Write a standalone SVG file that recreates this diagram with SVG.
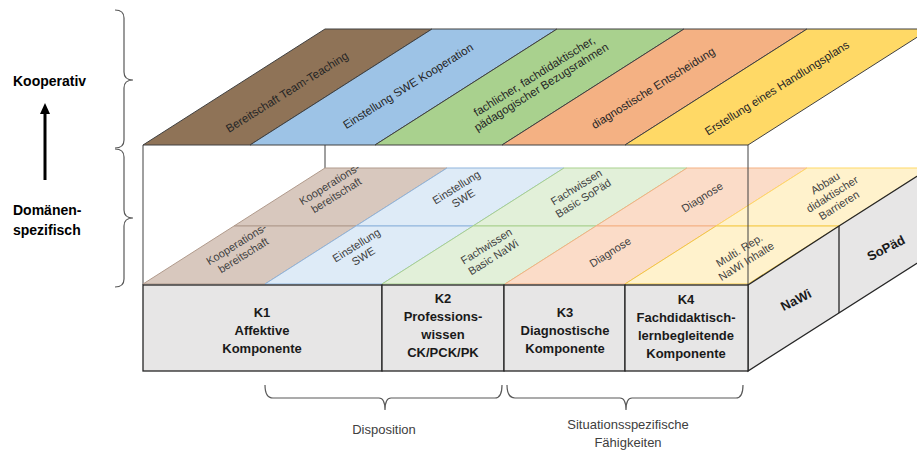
<svg xmlns="http://www.w3.org/2000/svg" width="917" height="450" viewBox="0 0 917 450">
<style>
text{font-family:"Liberation Sans",Arial,sans-serif;}
.tl{font-size:11.5px;fill:#262626;text-anchor:middle;}
.ml{font-size:11px;fill:#404040;text-anchor:middle;}
.bx{fill:#e7e6e6;stroke:#262626;stroke-width:1.3;}
.bt{font-size:13px;font-weight:bold;fill:#1a1a1a;text-anchor:middle;}
.lb{font-size:14px;font-weight:bold;fill:#000;}
.br{fill:none;stroke:#595959;stroke-width:1.2;}
.bot{font-size:13px;fill:#404040;text-anchor:middle;}
.edge{stroke:#404040;stroke-width:1;fill:none;}
</style>
<rect width="917" height="450" fill="#fff"/>

<g id="left-labels">
<path class="br" d="M115,10 Q124,10 124,18 L124,72 Q124,80 133,80 Q124,80 124,88 L124,140 Q124,148 115,148"/>
<path class="br" d="M115,149 Q124,149 124,157 L124,210 Q124,218 133,218 Q124,218 124,226 L124,279 Q124,287 115,287"/>
<text class="lb" x="13" y="86">Kooperativ</text>
<line x1="45" y1="180" x2="45" y2="112" stroke="#000" stroke-width="3"/>
<polygon points="45,103 40,114 50,114" fill="#000"/>
<text class="lb" x="13" y="215">Domänen-</text>
<text class="lb" x="13" y="235">spezifisch</text>
</g>

<g id="frame">
<line class="edge" x1="143" y1="145" x2="143" y2="285"/>
<line class="edge" x1="325" y1="145" x2="325" y2="168"/>
</g>

<g id="middle-layer">
<polygon points="234,226 356,226 447,168 325,168" fill="#d8c8be" stroke="#b09a8c"/>
<polygon points="356,226 473,226 564,168 447,168" fill="#deebf7" stroke="#8fb4dc"/>
<polygon points="473,226 596,226 687,168 564,168" fill="#e2f0d9" stroke="#a9d18e"/>
<polygon points="596,226 716,226 807,168 687,168" fill="#fbdcc8" stroke="#f4b183"/>
<polygon points="716,226 839,226 930,168 807,168" fill="#fff2cc" stroke="#ffd966"/>
<polygon points="143,284 265,284 356,226 234,226" fill="#d8c8be" stroke="#b09a8c"/>
<polygon points="265,284 382,284 473,226 356,226" fill="#deebf7" stroke="#8fb4dc"/>
<polygon points="382,284 505,284 596,226 473,226" fill="#e2f0d9" stroke="#a9d18e"/>
<polygon points="505,284 625,284 716,226 596,226" fill="#fbdcc8" stroke="#f4b183"/>
<polygon points="625,284 748,284 839,226 716,226" fill="#fff2cc" stroke="#f2c744"/>

<text class="ml" transform="translate(333,190) rotate(-32)"><tspan x="0" dy="-3">Kooperations-</tspan><tspan x="0" dy="13">bereitschaft</tspan></text>
<text class="ml" transform="translate(460,193) rotate(-32)"><tspan x="0" dy="-3">Einstellung</tspan><tspan x="0" dy="13">SWE</tspan></text>
<text class="ml" transform="translate(580,193) rotate(-32)"><tspan x="0" dy="-3">Fachwissen</tspan><tspan x="0" dy="13">Basic SoPäd</tspan></text>
<text class="ml" transform="translate(702,197) rotate(-32)"><tspan x="0" dy="4">Diagnose</tspan></text>
<text class="ml" transform="translate(832,194) rotate(-32)"><tspan x="0" dy="-9">Abbau</tspan><tspan x="0" dy="13">didaktischer</tspan><tspan x="0" dy="13">Barrieren</tspan></text>

<text class="ml" transform="translate(240,250) rotate(-32)"><tspan x="0" dy="-3">Kooperations-</tspan><tspan x="0" dy="13">bereitschaft</tspan></text>
<text class="ml" transform="translate(360,251) rotate(-32)"><tspan x="0" dy="-3">Einstellung</tspan><tspan x="0" dy="13">SWE</tspan></text>
<text class="ml" transform="translate(490,252) rotate(-32)"><tspan x="0" dy="-3">Fachwissen</tspan><tspan x="0" dy="13">Basic NaWi</tspan></text>
<text class="ml" transform="translate(610,252) rotate(-32)"><tspan x="0" dy="4">Diagnose</tspan></text>
<text class="ml" transform="translate(743,256) rotate(-32)"><tspan x="0" dy="-3">Multi. Rep.</tspan><tspan x="0" dy="13">NaWi Inhalte</tspan></text>
</g>

<g id="front-edge">
<line class="edge" x1="748" y1="145" x2="748" y2="285"/>
</g>

<g id="top-layer">
<polygon points="143,145 250,145 432,29 325,29" fill="#8f7357" stroke="#404040"/>
<polygon points="250,145 375,145 557,29 432,29" fill="#9dc3e6" stroke="#404040"/>
<polygon points="375,145 502,145 684,29 557,29" fill="#a9d18e" stroke="#404040"/>
<polygon points="502,145 625,145 807,29 684,29" fill="#f4b183" stroke="#404040"/>
<polygon points="625,145 748,145 930,29 807,29" fill="#ffd966" stroke="#404040"/>
<text class="tl" transform="translate(287,92) rotate(-32)"><tspan x="0" dy="4">Bereitschaft Team-Teaching</tspan></text>
<text class="tl" transform="translate(408,86) rotate(-32)"><tspan x="0" dy="4">Einstellung SWE Kooperation</tspan></text>
<text class="tl" transform="translate(538,82) rotate(-32)"><tspan x="0" dy="-3">fachlicher, fachdidaktischer,</tspan><tspan x="0" dy="13">pädagogischer Bezugsrahmen</tspan></text>
<text class="tl" transform="translate(653,88) rotate(-32)"><tspan x="0" dy="4">diagnostische Entscheidung</tspan></text>
<text class="tl" transform="translate(777,88) rotate(-32)"><tspan x="0" dy="4">Erstellung eines Handlungsplans</tspan></text>
</g>

<g id="side-face">
<polygon class="bx" points="748,285 839,226 930,168 930,255 748,371"/>
<line x1="839" y1="226" x2="839" y2="313" stroke="#262626" stroke-width="1.3"/>
<text class="bt" transform="translate(798,304) rotate(-27)">NaWi</text>
<text class="bt" transform="translate(888,252) rotate(-27)">SoPäd</text>
</g>

<g id="k1">
<rect class="bx" x="143" y="285" width="239" height="86"/>
<text class="bt" x="262" y="317">K1</text>
<text class="bt" x="262" y="335">Affektive</text>
<text class="bt" x="262" y="353">Komponente</text>
</g>
<g id="k2">
<rect class="bx" x="382" y="285" width="122" height="86"/>
<text class="bt" x="443" y="303">K2</text>
<text class="bt" x="443" y="321">Professions-</text>
<text class="bt" x="443" y="339">wissen</text>
<text class="bt" x="443" y="357">CK/PCK/PK</text>
</g>
<g id="k3">
<rect class="bx" x="504" y="285" width="121" height="86"/>
<text class="bt" x="565" y="317">K3</text>
<text class="bt" x="565" y="335">Diagnostische</text>
<text class="bt" x="565" y="353">Komponente</text>
</g>
<g id="k4">
<rect class="bx" x="625" y="285" width="123" height="86"/>
<text class="bt" x="686" y="304">K4</text>
<text class="bt" x="686" y="322">Fachdidaktisch-</text>
<text class="bt" x="686" y="340">lernbegleitende</text>
<text class="bt" x="686" y="358">Komponente</text>
</g>

<g id="bottom-braces">
<path class="br" d="M265,385 Q265,398 273,398 L379,398 Q385,398 385,410 Q385,398 391,398 L495,398 Q502,398 502,385"/>
<path class="br" d="M507,385 Q507,398 515,398 L620,398 Q626,398 626,410 Q626,398 632,398 L736,398 Q743,398 743,385"/>
<text class="bot" x="384" y="434">Disposition</text>
<text class="bot" x="628" y="429">Situationsspezifische</text>
<text class="bot" x="628" y="447">Fähigkeiten</text>
</g>
</svg>
